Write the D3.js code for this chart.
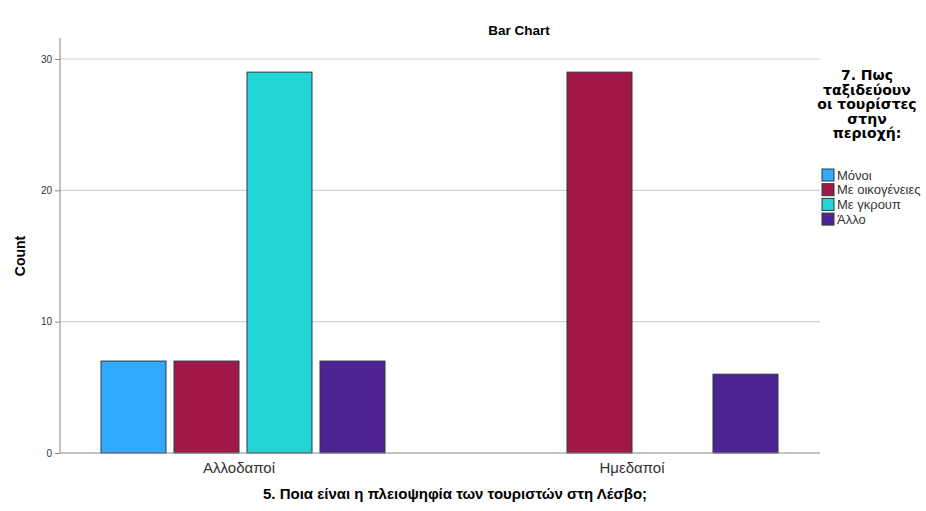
<!DOCTYPE html>
<html><head><meta charset="utf-8">
<script src="https://cdn.jsdelivr.net/npm/d3@7"></script>
<style>body{margin:0;background:#fff}svg{display:block;font-family:"Liberation Sans",Arial,sans-serif}</style>
</head><body><svg id="c" width="926" height="511"></svg>
<script>
const categories = ["Αλλοδαποί", "Ημεδαποί"];
const series = ["Μόνοι", "Με οικογένειες", "Με γκρουπ", "Άλλο"];
const valuesMonoi = [7, 0];
const valuesOikogeneies = [7, 29];
const valuesGkroup = [29, 0];
const valuesAllo = [7, 6];
const yTicks = [0, 10, 20, 30];
const colors = ["#31aaff", "#a11848", "#22d4d4", "#4e2494"];
const allValues = [valuesMonoi, valuesOikogeneies, valuesGkroup, valuesAllo];

const svg = d3.select("#c");
const y = d3.scaleLinear().domain([0, 30]).range([453, 59]);
const x0 = d3.scaleBand().domain(categories).range([46.5, 832.5]);
const x1 = d3.scaleBand().domain(series).range([0, 284]).paddingInner(8/73).paddingOuter(0);

// gridlines
svg.append("g").selectAll("line").data(yTicks.filter(d=>d>0)).join("line")
  .attr("x1", 60).attr("x2", 820).attr("y1", d=>y(d)).attr("y2", d=>y(d))
  .attr("stroke", "#d0d0d0").attr("stroke-width", 1.2);

// bars
categories.forEach((cat, ci) => {
  const g = svg.append("g").attr("transform", `translate(${x0(cat) + x0.bandwidth()/2 - 142},0)`);
  series.forEach((s, si) => {
    const v = allValues[si][ci];
    if (v > 0) {
      g.append("rect").attr("x", x1(s)).attr("width", x1.bandwidth())
        .attr("y", y(v)).attr("height", y(0) - y(v))
        .attr("fill", colors[si]).attr("stroke", "#2b3a3e").attr("stroke-width", 1);
    }
  });
});

// axes
const yAxis = d3.axisLeft(y).tickValues(yTicks).tickSize(5).tickFormat(d3.format("d"));
const ya = svg.append("g").attr("transform", "translate(60,0)").call(yAxis);
ya.select(".domain").attr("d", "M0,38V453").attr("stroke", "#888");
ya.selectAll(".tick line").attr("stroke", "#888");
ya.selectAll(".tick text").attr("font-size", 10).attr("fill", "#333").attr("font-family", "Liberation Sans, Arial");
svg.append("line").attr("x1", 60).attr("x2", 820).attr("y1", 453).attr("y2", 453).attr("stroke", "#888");

svg.append("g").selectAll("text").data(categories).join("text")
  .attr("x", d => x0(d) + x0.bandwidth()/2 - 4).attr("y", 473).attr("text-anchor", "middle")
  .attr("font-size", 15).attr("fill", "#333").text(d => d);

// titles
svg.append("text").attr("x", 519).attr("y", 35).attr("text-anchor", "middle")
  .attr("font-size", 13.5).attr("font-weight", "bold").text("Bar Chart");
svg.append("text").attr("transform", "translate(25,256) rotate(-90)").attr("text-anchor", "middle")
  .attr("font-size", 14).attr("font-weight", "bold").text("Count");
svg.append("text").attr("x", 455).attr("y", 499).attr("text-anchor", "middle")
  .attr("font-size", 15).attr("font-weight", "bold").text("5. Ποια είναι η πλειοψηφία των τουριστών στη Λέσβο;");

// legend
const ltitle = ["7. Πως", "ταξιδεύουν", "οι τουρίστες", "στην", "περιοχή:"];
svg.append("g").selectAll("text").data(ltitle).join("text")
  .attr("x", 867).attr("y", (d,i) => 80 + i*14.5).attr("text-anchor", "middle")
  .attr("font-family", "DejaVu Sans").attr("font-size", 14).attr("font-weight", "bold").text(d => d);
const lg = svg.append("g").selectAll("g").data(series).join("g")
  .attr("transform", (d,i) => `translate(822,${169 + i*14.7})`);
lg.append("rect").attr("width", 12).attr("height", 12).attr("fill", (d,i) => colors[i]).attr("stroke", "#2b3a3e");
lg.append("text").attr("x", 15).attr("y", 10.5).attr("font-size", 13).attr("fill", "#333").text(d => d);
</script></body></html>
